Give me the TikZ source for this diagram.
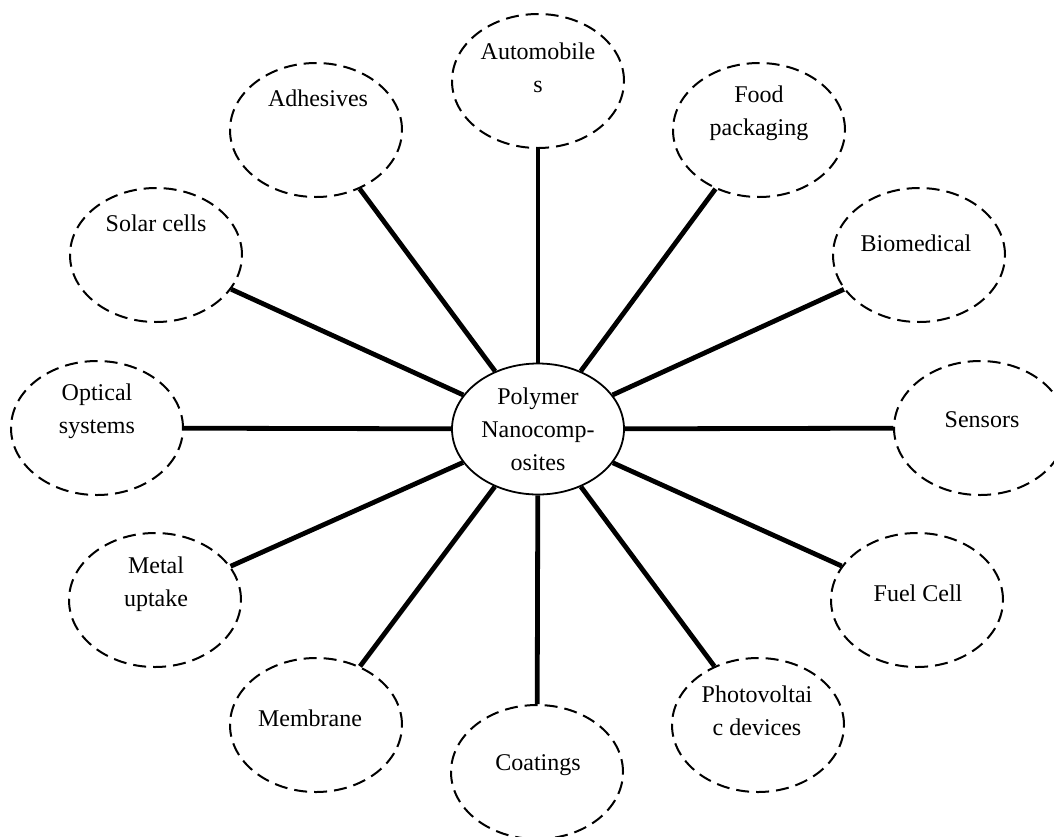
\documentclass[tikz,border=0pt]{standalone}
\usepackage{fontspec}
\setmainfont{Liberation Serif}
\usetikzlibrary{shapes.geometric}
\begin{document}
\begin{tikzpicture}[x=0.5pt,y=-0.5pt,
  app/.style={draw,ellipse,line width=1pt,dash pattern=on 6.5pt off 3.5pt,minimum width=86pt,minimum height=67pt,inner sep=0pt},
  hub/.style={draw,ellipse,line width=0.9pt,minimum width=86pt,minimum height=65.5pt,inner sep=0pt},
  txt/.style={align=center,inner sep=0pt,font=\fontsize{12}{16.5}\selectfont},
  conn/.style={line width=2.4pt}]
\useasboundingbox (0,0) rectangle (1054,836);
\node[hub] (ctr) at (538,429) {};
\node[txt] (ctrt) at (538,429) {Polymer\\Nanocomp-\\osites};
\node[app] (auto) at (538,81) {};
\node[txt] (autot) at (538,68) {Automobile\\s};
\node[app] (food) at (759,130) {};
\node[txt] (foodt) at (759,113) {Food\\packaging};
\node[app] (bio) at (919,255) {};
\node[txt] (biot) at (916,243) {Biomedical};
\node[app] (sens) at (980,428) {};
\node[txt] (senst) at (982,420) {Sensors};
\node[app] (fuel) at (917,600) {};
\node[txt] (fuelt) at (918,593) {Fuel Cell};
\node[app] (photo) at (758,725) {};
\node[txt] (photot) at (757,711) {Photovoltai\\c devices};
\node[app] (coat) at (537,772) {};
\node[txt] (coatt) at (538,765) {Coatings};
\node[app] (memb) at (316,725) {};
\node[txt] (membt) at (310,718) {Membrane};
\node[app] (metal) at (155,600) {};
\node[txt] (metalt) at (156,584) {Metal\\uptake};
\node[app] (opt) at (97,428) {};
\node[txt] (optt) at (97,411) {Optical\\systems};
\node[app] (solar) at (156,255) {};
\node[txt] (solart) at (156,223) {Solar cells};
\node[app] (adh) at (316,130) {};
\node[txt] (adht) at (318,98) {Adhesives};
\foreach \n in {auto,food,bio,sens,fuel,photo,coat,memb,metal,opt,solar,adh}
  \draw[conn] (ctr) -- (\n);
\end{tikzpicture}
\end{document}
